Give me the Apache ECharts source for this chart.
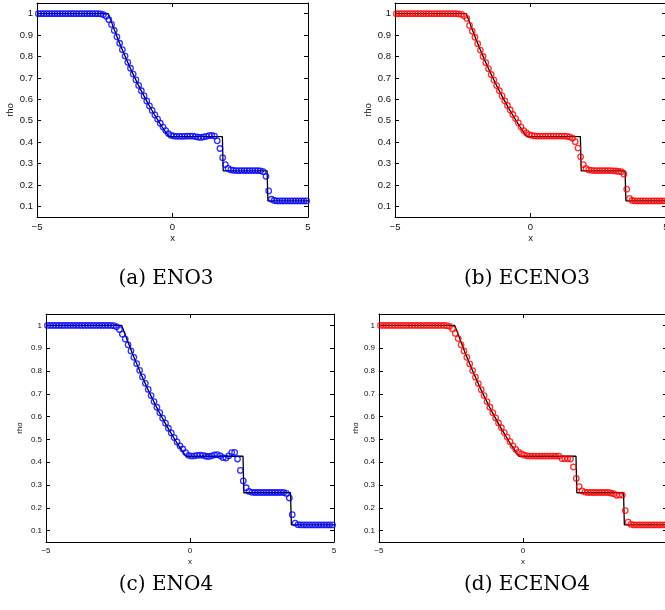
<!DOCTYPE html>
<html>
<head>
<meta charset="utf-8">
<script src="https://cdn.jsdelivr.net/npm/echarts@6/dist/echarts.min.js"></script>
<style>
  html, body { margin: 0; padding: 0; background: #fff; }
  #main { width: 665px; height: 610px; }
</style>
</head>
<body>
<div id="main"></div>
<script>
// cell centres of the mesh (dx = 0.1)
const xCells = [
  -4.95, -4.85, -4.75, -4.65, -4.55, -4.45, -4.35, -4.25, -4.15, -4.05,
  -3.95, -3.85, -3.75, -3.65, -3.55, -3.45, -3.35, -3.25, -3.15, -3.05,
  -2.95, -2.85, -2.75, -2.65, -2.55, -2.45, -2.35, -2.25, -2.15, -2.05,
  -1.95, -1.85, -1.75, -1.65, -1.55, -1.45, -1.35, -1.25, -1.15, -1.05,
  -0.95, -0.85, -0.75, -0.65, -0.55, -0.45, -0.35, -0.25, -0.15, -0.05,
  0.05, 0.15, 0.25, 0.35, 0.45, 0.55, 0.65, 0.75, 0.85, 0.95,
  1.05, 1.15, 1.25, 1.35, 1.45, 1.55, 1.65, 1.75, 1.85, 1.95,
  2.05, 2.15, 2.25, 2.35, 2.45, 2.55, 2.65, 2.75, 2.85, 2.95,
  3.05, 3.15, 3.25, 3.35, 3.45, 3.55, 3.65, 3.75, 3.85, 3.95,
  4.05, 4.15, 4.25, 4.35, 4.45, 4.55, 4.65, 4.75, 4.85, 4.95
]

// (a) ENO3
const rhoENO3 = [
  1, 1, 1, 1, 1, 1, 1, 1, 1, 1,
  1, 1, 1, 1, 1, 1, 1, 1, 1, 1,
  1, 1, 1, 0.999, 0.996, 0.988, 0.972, 0.950, 0.922, 0.892,
  0.862, 0.832, 0.802, 0.773, 0.745, 0.718, 0.691, 0.665, 0.640, 0.616,
  0.592, 0.569, 0.548, 0.527, 0.507, 0.488, 0.470, 0.454, 0.440, 0.431,
  0.428, 0.427, 0.427, 0.427, 0.427, 0.428, 0.428, 0.428, 0.426, 0.423,
  0.422, 0.424, 0.427, 0.430, 0.431, 0.428, 0.406, 0.370, 0.327, 0.295,
  0.277, 0.270, 0.268, 0.267, 0.267, 0.267, 0.267, 0.267, 0.267, 0.267,
  0.267, 0.267, 0.266, 0.262, 0.240, 0.172, 0.133, 0.127, 0.125, 0.125,
  0.125, 0.125, 0.125, 0.125, 0.125, 0.125, 0.125, 0.125, 0.125, 0.125
]

// (b) ECENO3
const rhoECENO3 = [
  1, 1, 1, 1, 1, 1, 1, 1, 1, 1,
  1, 1, 1, 1, 1, 1, 1, 1, 1, 1,
  1, 1, 1, 0.999, 0.997, 0.990, 0.978, 0.945, 0.918, 0.890,
  0.860, 0.830, 0.800, 0.771, 0.743, 0.716, 0.690, 0.664, 0.640, 0.616,
  0.593, 0.571, 0.550, 0.529, 0.510, 0.490, 0.470, 0.454, 0.443, 0.435,
  0.431, 0.429, 0.428, 0.428, 0.428, 0.428, 0.428, 0.428, 0.428, 0.428,
  0.428, 0.428, 0.428, 0.427, 0.424, 0.418, 0.402, 0.372, 0.331, 0.295,
  0.277, 0.270, 0.268, 0.267, 0.267, 0.267, 0.267, 0.267, 0.267, 0.267,
  0.266, 0.265, 0.263, 0.262, 0.250, 0.180, 0.137, 0.127, 0.125, 0.125,
  0.125, 0.125, 0.125, 0.125, 0.125, 0.125, 0.125, 0.125, 0.125, 0.125
]

// (c) ENO4
const rhoENO4 = [
  1, 1, 1, 1, 1, 1, 1, 1, 1, 1,
  1, 1, 1, 1, 1, 1, 1, 1, 1, 1,
  1, 1, 1, 0.999, 0.994, 0.982, 0.962, 0.940, 0.915, 0.888,
  0.860, 0.832, 0.803, 0.774, 0.746, 0.719, 0.692, 0.666, 0.641, 0.617,
  0.593, 0.571, 0.549, 0.528, 0.508, 0.489, 0.472, 0.458, 0.442, 0.430,
  0.427, 0.428, 0.430, 0.431, 0.430, 0.426, 0.425, 0.428, 0.432, 0.433,
  0.428, 0.420, 0.418, 0.428, 0.442, 0.443, 0.414, 0.364, 0.318, 0.288,
  0.272, 0.268, 0.267, 0.267, 0.267, 0.267, 0.267, 0.267, 0.267, 0.267,
  0.267, 0.267, 0.267, 0.263, 0.243, 0.170, 0.133, 0.126, 0.125, 0.125,
  0.125, 0.125, 0.125, 0.125, 0.125, 0.125, 0.125, 0.125, 0.125, 0.125
]

// (d) ECENO4
const rhoECENO4 = [
  1, 1, 1, 1, 1, 1, 1, 1, 1, 1,
  1, 1, 1, 1, 1, 1, 1, 1, 1, 1,
  1, 1, 1, 0.999, 0.996, 0.985, 0.965, 0.942, 0.915, 0.888,
  0.860, 0.831, 0.802, 0.773, 0.745, 0.718, 0.692, 0.666, 0.641, 0.617,
  0.594, 0.572, 0.551, 0.530, 0.510, 0.490, 0.472, 0.456, 0.444, 0.436,
  0.431, 0.428, 0.427, 0.427, 0.427, 0.427, 0.427, 0.427, 0.427, 0.427,
  0.427, 0.427, 0.427, 0.416, 0.415, 0.415, 0.414, 0.379, 0.329, 0.293,
  0.274, 0.269, 0.267, 0.267, 0.267, 0.267, 0.267, 0.267, 0.267, 0.267,
  0.265, 0.262, 0.255, 0.256, 0.256, 0.188, 0.137, 0.127, 0.125, 0.125,
  0.125, 0.125, 0.125, 0.125, 0.125, 0.125, 0.125, 0.125, 0.125, 0.125
]

// exact solution (black line)
const exactX = [-5, -2.37, -2.3, -2.2, -2.1, -2.0, -1.9, -1.8, -1.7, -1.6, -1.5, -1.4, -1.3, -1.2, -1.1,
  -1.0, -0.9, -0.8, -0.7, -0.6, -0.5, -0.4, -0.3, -0.2, -0.14, 1.84, 1.87, 3.49, 3.52, 5]
const exactRho = [1, 1, 0.977, 0.943, 0.910, 0.877, 0.846, 0.816, 0.786, 0.758, 0.730, 0.703, 0.677, 0.651, 0.627,
  0.603, 0.580, 0.557, 0.536, 0.515, 0.494, 0.474, 0.455, 0.437, 0.426, 0.426, 0.266, 0.266, 0.125, 0.125]

const xTicks = [-5, 0, 5]
const yTicks = [0.1, 0.2, 0.3, 0.4, 0.5, 0.6, 0.7, 0.8, 0.9, 1]
const captions = ['(a) ENO3', '(b) ECENO3', '(c) ENO4', '(d) ECENO4']

const panels = [
  { left: 37, top: 3, width: 271, height: 214, font: 9.5, gapY: 22, gapX: 15, rho: rhoENO3, color: '#0000ff', cx: 166, cy: 279 },
  { left: 395, top: 3, width: 271, height: 214, font: 9.5, gapY: 22, gapX: 15, rho: rhoECENO3, color: '#ff0000', cx: 527, cy: 279 },
  { left: 46, top: 314, width: 288, height: 228, font: 8, gapY: 22, gapX: 16, rho: rhoENO4, color: '#0000ff', cx: 166, cy: 585 },
  { left: 379, top: 314, width: 288, height: 228, font: 8, gapY: 17, gapX: 16, rho: rhoECENO4, color: '#ff0000', cx: 527, cy: 585 }
]

const labelFont = 'Liberation Sans'
const grid = []
const xAxis = []
const yAxis = []
const series = []
const graphic = []

panels.forEach((p, k) => {
  grid.push({ left: p.left, top: p.top, width: p.width, height: p.height, outerBoundsMode: 'none' })
  const line = { onZero: false, lineStyle: { color: '#000', width: 1 } }
  const tick = { inside: true, length: 4, lineStyle: { color: '#000', width: 1 } }
  const txt = { fontFamily: labelFont, fontSize: p.font, color: '#111' }
  // bottom / top x axes
  xAxis.push({
    type: 'value', gridIndex: k, min: -5, max: 5, interval: 5, position: 'bottom',
    name: 'x', nameLocation: 'middle', nameGap: p.gapX, nameTextStyle: txt,
    axisLine: line, axisTick: tick, splitLine: { show: false },
    axisLabel: Object.assign({ margin: 5, formatter: v => String(v).replace('-', '\u2212') }, txt)
  })
  xAxis.push({
    type: 'value', gridIndex: k, min: -5, max: 5, interval: 5, position: 'top',
    axisLine: line, axisTick: tick, splitLine: { show: false }, axisLabel: { show: false }
  })
  // left / right y axes
  yAxis.push({
    type: 'value', gridIndex: k, min: 0.05, max: 1.05, position: 'left',
    name: 'rho', nameLocation: 'middle', nameGap: p.gapY, nameTextStyle: txt,
    axisLine: line, axisTick: Object.assign({ customValues: yTicks }, tick), splitLine: { show: false },
    axisLabel: Object.assign({ margin: 4, customValues: yTicks, formatter: v => String(v) }, txt)
  })
  yAxis.push({
    type: 'value', gridIndex: k, min: 0.05, max: 1.05, position: 'right',
    axisLine: line, axisTick: Object.assign({ customValues: yTicks }, tick), splitLine: { show: false },
    axisLabel: { show: false }
  })
  series.push({
    type: 'line', xAxisIndex: 2 * k, yAxisIndex: 2 * k, showSymbol: false, z: 2,
    lineStyle: { color: '#000', width: 1.3 },
    data: exactX.map((x, i) => [x, exactRho[i]])
  })
  series.push({
    type: 'scatter', xAxisIndex: 2 * k, yAxisIndex: 2 * k, symbol: 'circle', symbolSize: 5.5, clip: false, z: 3,
    itemStyle: { color: 'rgba(0,0,0,0)', borderColor: p.color, borderWidth: 1.3 },
    data: xCells.map((x, i) => [x, p.rho[i]])
  })
  graphic.push({
    type: 'text', x: p.cx, y: p.cy,
    style: { text: captions[k], textAlign: 'center', textVerticalAlign: 'middle', font: '20px "DejaVu Serif"', fill: '#000' }
  })
})

const myChart = echarts.init(document.getElementById('main'))
myChart.setOption({
  animation: false,
  backgroundColor: '#fff',
  grid: grid,
  xAxis: xAxis,
  yAxis: yAxis,
  series: series,
  graphic: graphic
})
</script>
</body>
</html>
